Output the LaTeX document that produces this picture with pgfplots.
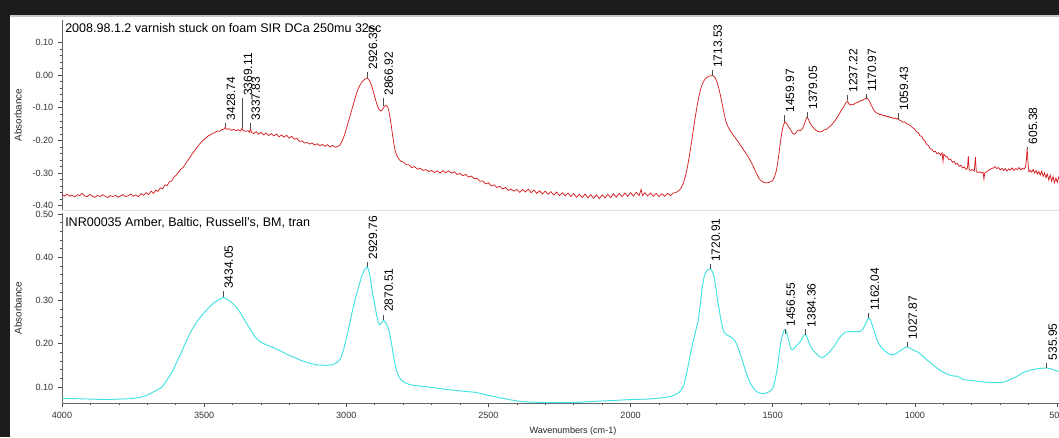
\documentclass[border=0pt]{standalone}
\usepackage{fontspec}
\setmainfont{Liberation Sans}
\usepackage{pgfplots}
\pgfplotsset{compat=1.18}
\usepackage{pgfplotstable}
\definecolor{redline}{RGB}{214,30,34}
\definecolor{cyanline}{RGB}{64,226,226}
\definecolor{darkframe}{RGB}{28,28,28}

\pgfplotstableread{
w v lab
3426 -0.143 3428.74
3366 -0.068 3369.11
3339 -0.143 3337.83
2927 0.012 2926.37
2871 -0.067 2866.92
1714 0.018 1713.53
1460 -0.119 1459.97
1379 -0.110 1379.05
1237 -0.058 1237.22
1171 -0.055 1170.97
1059 -0.113 1059.43
605 -0.216 605.38
}\toplabels

\pgfplotstableread{
w v lab
3434 0.323 3434.05
2927 0.391 2929.76
2871 0.270 2870.51
1721 0.386 1720.91
1457 0.236 1456.55
1384 0.235 1384.36
1162 0.274 1162.04
1028 0.207 1027.87
536 0.158 535.95
}\botlabels

\pgfplotsset{
  commonax/.style={
    scale only axis, width=747.75pt, height=142.5pt,
    x dir=reverse, xmin=493, xmax=4000,
    axis line style={-, black!60, line width=0.6pt},
    tick align=outside, major tick length=3pt, minor tick length=1.8pt,
    every tick/.style={black!70, line width=0.5pt},
    /pgf/number format/assume math mode=true,
    yticklabel style={font=\fontsize{6.8}{8}\selectfont, text=black!80,
      /pgf/number format/fixed, /pgf/number format/fixed zerofill,
      /pgf/number format/precision=2},
    xticklabel style={font=\fontsize{6.8}{8}\selectfont, text=black!80,
      /pgf/number format/1000 sep={}},
    minor y tick num=4,
    ylabel={Absorbance},
    ylabel style={font=\fontsize{7.4}{9}\selectfont, text=black!85,
      at={(axis description cs:-0.0441,0.5)}, anchor=center},
  },
  peaklab/.style={only marks, mark=none, nodes near coords,
    point meta=explicit symbolic,
    every node near coord/.append style={rotate=90, anchor=north west,
      inner sep=1pt, font=\fontsize{9}{10}\selectfont, text=black}},
}

\begin{document}
\begin{tikzpicture}
\fill[darkframe] (0pt,0pt) rectangle (794.25pt,327.75pt);
\fill[white] (7.5pt,0pt) rectangle (794.25pt,315pt);
\fill[black!22] (7.5pt,315pt) rectangle (794.25pt,316.5pt);
\draw[black!12, line width=1.2pt] (46.5pt,169.9pt) -- (794.25pt,169.9pt);

% ---------------- top panel ----------------
\begin{axis}[commonax, at={(46.5pt,170.25pt)}, anchor=south west,
  ymin=-0.413, ymax=0.169,
  axis x line=none, axis y line*=left,
  ytick={-0.4,-0.3,-0.2,-0.1,0,0.1}]
\addplot[redline, line width=0.55pt] coordinates {
(4000,-0.366)(3990,-0.370)(3982,-0.364)(3973,-0.371)(3965,-0.367)(3955,-0.373)(3946,-0.366)(3938,-0.369)(3929,-0.362)(3920,-0.370)
(3911,-0.372)(3902,-0.365)(3893,-0.371)(3884,-0.374)(3875,-0.368)(3866,-0.372)(3857,-0.366)(3848,-0.371)(3839,-0.375)(3830,-0.369)
(3821,-0.372)(3812,-0.368)(3803,-0.374)(3794,-0.370)(3785,-0.366)(3776,-0.372)(3767,-0.369)(3758,-0.364)(3749,-0.371)(3740,-0.367)
(3731,-0.372)(3722,-0.363)(3713,-0.368)(3704,-0.360)(3695,-0.366)(3686,-0.355)(3678,-0.362)(3670,-0.352)(3662,-0.356)(3654,-0.345)
(3646,-0.348)(3638,-0.336)(3630,-0.338)(3622,-0.326)(3614,-0.324)(3606,-0.312)(3598,-0.306)(3590,-0.297)(3582,-0.288)(3574,-0.283)
(3566,-0.272)(3558,-0.262)(3550,-0.252)(3542,-0.241)(3534,-0.232)(3526,-0.222)(3518,-0.213)(3510,-0.205)(3502,-0.198)(3494,-0.193)
(3486,-0.186)(3478,-0.183)(3470,-0.178)(3462,-0.176)(3454,-0.171)(3446,-0.172)(3438,-0.167)(3430,-0.165)(3426,-0.160)(3420,-0.166)
(3412,-0.164)(3404,-0.169)(3396,-0.166)(3388,-0.170)(3380,-0.167)(3372,-0.171)(3367,-0.163)(3362,-0.170)(3354,-0.172)(3346,-0.170)
(3340,-0.175)(3337,-0.164)(3333,-0.175)(3325,-0.179)(3317,-0.173)(3309,-0.181)(3300,-0.175)(3291,-0.183)(3282,-0.177)(3273,-0.185)
(3264,-0.179)(3255,-0.186)(3246,-0.180)(3237,-0.189)(3228,-0.183)(3219,-0.190)(3210,-0.184)(3201,-0.193)(3192,-0.187)(3183,-0.196)
(3174,-0.193)(3165,-0.203)(3156,-0.201)(3147,-0.208)(3138,-0.206)(3129,-0.211)(3120,-0.208)(3111,-0.214)(3102,-0.210)(3093,-0.216)
(3084,-0.212)(3075,-0.218)(3066,-0.213)(3057,-0.220)(3048,-0.215)(3039,-0.221)(3031,-0.218)(3024,-0.216)(3018,-0.208)(3012,-0.196)
(3006,-0.182)(3000,-0.165)(2994,-0.146)(2988,-0.128)(2982,-0.110)(2976,-0.092)(2970,-0.074)(2964,-0.056)(2958,-0.042)(2952,-0.031)
(2946,-0.022)(2940,-0.016)(2934,-0.012)(2928,-0.009)(2924,-0.010)(2919,-0.016)(2914,-0.025)(2909,-0.038)(2904,-0.053)(2899,-0.069)
(2894,-0.084)(2889,-0.097)(2884,-0.106)(2879,-0.110)(2874,-0.106)(2869,-0.099)(2864,-0.094)(2859,-0.093)(2854,-0.098)(2849,-0.115)
(2844,-0.140)(2839,-0.172)(2834,-0.203)(2829,-0.228)(2823,-0.245)(2816,-0.256)(2808,-0.264)
(2799,-0.266)(2790,-0.274)(2780,-0.274)(2770,-0.283)(2760,-0.280)(2750,-0.288)(2740,-0.285)(2730,-0.292)(2720,-0.289)(2710,-0.295)
(2700,-0.292)(2690,-0.298)(2680,-0.293)(2670,-0.300)(2660,-0.292)(2650,-0.299)(2640,-0.293)(2630,-0.300)(2620,-0.296)(2610,-0.304)
(2600,-0.301)(2590,-0.308)(2580,-0.304)(2570,-0.312)(2560,-0.309)(2550,-0.317)(2540,-0.316)(2530,-0.325)(2520,-0.324)(2510,-0.333)
(2500,-0.330)(2490,-0.339)(2480,-0.336)(2470,-0.344)(2460,-0.340)(2450,-0.349)(2440,-0.344)(2430,-0.353)(2420,-0.349)(2410,-0.355)
(2400,-0.350)(2390,-0.359)(2380,-0.350)(2370,-0.358)(2360,-0.349)(2350,-0.360)(2340,-0.352)(2330,-0.362)(2320,-0.354)(2310,-0.364)
(2300,-0.355)(2290,-0.365)(2280,-0.357)(2270,-0.367)(2260,-0.358)(2250,-0.369)(2240,-0.360)(2230,-0.370)(2220,-0.361)(2210,-0.372)
(2200,-0.363)(2190,-0.374)(2180,-0.365)(2170,-0.375)(2160,-0.364)(2150,-0.376)(2140,-0.366)(2130,-0.377)(2120,-0.367)(2110,-0.378)
(2100,-0.367)(2090,-0.376)(2080,-0.365)(2070,-0.375)(2060,-0.363)(2050,-0.374)(2040,-0.362)(2030,-0.372)(2020,-0.361)(2010,-0.371)
(2000,-0.360)(1990,-0.370)(1980,-0.359)(1970,-0.369)(1963,-0.350)(1958,-0.369)(1950,-0.360)(1940,-0.370)(1930,-0.361)(1920,-0.371)
(1910,-0.362)(1900,-0.372)(1890,-0.363)(1880,-0.371)(1870,-0.362)(1860,-0.369)(1850,-0.361)
(1842,-0.360)(1834,-0.356)(1826,-0.350)(1820,-0.342)(1814,-0.330)(1808,-0.312)
(1802,-0.290)(1796,-0.262)(1790,-0.230)(1784,-0.196)(1778,-0.160)(1772,-0.126)(1766,-0.094)(1760,-0.066)(1754,-0.044)(1748,-0.028)
(1742,-0.017)(1736,-0.010)(1730,-0.006)(1724,-0.003)(1718,-0.002)(1712,-0.001)(1706,-0.004)(1700,-0.012)(1694,-0.026)(1688,-0.046)
(1682,-0.070)(1676,-0.096)(1670,-0.122)(1664,-0.144)(1656,-0.160)(1648,-0.172)(1640,-0.182)(1630,-0.194)(1620,-0.206)(1610,-0.219)
(1600,-0.232)(1590,-0.245)(1580,-0.260)(1570,-0.276)(1562,-0.292)(1555,-0.305)(1548,-0.317)(1540,-0.324)(1532,-0.328)(1524,-0.330)
(1516,-0.329)(1508,-0.327)(1500,-0.322)(1494,-0.312)(1488,-0.295)(1483,-0.272)(1478,-0.240)(1473,-0.205)(1468,-0.175)(1463,-0.155)
(1458,-0.144)(1453,-0.146)(1448,-0.152)(1443,-0.160)(1438,-0.166)(1433,-0.174)(1428,-0.180)(1423,-0.181)(1418,-0.176)(1413,-0.170)
(1408,-0.168)(1403,-0.170)(1398,-0.167)(1393,-0.160)(1388,-0.148)(1383,-0.135)(1379,-0.128)(1375,-0.134)(1370,-0.144)(1365,-0.152)
(1360,-0.158)(1354,-0.164)(1348,-0.169)(1342,-0.172)(1335,-0.174)(1327,-0.172)(1319,-0.168)(1311,-0.166)(1303,-0.160)(1295,-0.154)
(1287,-0.146)(1279,-0.137)(1271,-0.126)(1263,-0.114)(1255,-0.103)(1248,-0.093)(1242,-0.084)(1237,-0.079)(1233,-0.086)(1228,-0.092)
(1222,-0.089)(1216,-0.090)(1210,-0.086)(1204,-0.084)(1198,-0.082)(1192,-0.078)(1186,-0.079)(1180,-0.074)(1174,-0.072)(1169,-0.069)
(1164,-0.074)(1159,-0.081)(1154,-0.091)(1148,-0.101)(1142,-0.110)(1136,-0.115)(1130,-0.117)(1124,-0.121)(1118,-0.120)(1112,-0.125)
(1106,-0.123)(1100,-0.127)(1094,-0.126)(1088,-0.130)(1082,-0.129)(1076,-0.133)(1070,-0.131)(1064,-0.135)(1059,-0.131)(1054,-0.138)
(1048,-0.140)(1042,-0.144)(1036,-0.143)(1030,-0.148)(1024,-0.151)(1018,-0.153)(1012,-0.158)(1006,-0.162)
(1000,-0.166)(994,-0.174)(988,-0.176)(982,-0.186)(976,-0.187)(970,-0.198)(964,-0.202)(958,-0.213)(952,-0.215)(946,-0.226)
(940,-0.227)(934,-0.235)(928,-0.233)(922,-0.241)(916,-0.237)(910,-0.245)(904,-0.238)(901,-0.264)(898,-0.242)(892,-0.249)
(886,-0.250)(880,-0.259)(874,-0.257)(868,-0.267)(862,-0.264)(856,-0.273)(850,-0.270)(844,-0.279)(838,-0.276)(832,-0.284)
(826,-0.281)(820,-0.289)(815,-0.285)(812,-0.248)(809,-0.290)(803,-0.292)(797,-0.289)(791,-0.294)(787,-0.250)(784,-0.295)
(778,-0.298)(772,-0.296)(766,-0.300)(760,-0.297)(757,-0.318)(754,-0.299)(748,-0.296)(742,-0.292)(736,-0.289)(730,-0.286)
(724,-0.284)(718,-0.280)(712,-0.286)(706,-0.283)(700,-0.290)(694,-0.285)(688,-0.292)(682,-0.286)(676,-0.294)(670,-0.287)
(664,-0.291)(658,-0.284)(652,-0.292)(646,-0.286)(640,-0.289)(634,-0.283)(628,-0.290)(622,-0.285)(616,-0.288)(611,-0.282)
(608,-0.262)(605,-0.224)(602,-0.270)(599,-0.296)(594,-0.291)(589,-0.297)(584,-0.289)(579,-0.300)(574,-0.292)(569,-0.303)
(564,-0.295)(559,-0.306)(554,-0.294)(549,-0.310)(544,-0.299)(539,-0.314)(534,-0.303)(529,-0.321)(524,-0.306)(519,-0.325)
(514,-0.310)(509,-0.330)(504,-0.315)(499,-0.328)(494,-0.312)(490,-0.322)
};
\addplot[black!70, line width=0.5pt, unbounded coords=jump] coordinates {
(3426,-0.160)(3426,-0.146)(3426,nan)
(3366,-0.163)(3366,-0.071)(3366,nan)
(3339,-0.164)(3339,-0.146)(3339,nan)
(2927,-0.008)(2927,0.009)(2927,nan)
(2871,-0.094)(2871,-0.070)(2871,nan)
(1714,-0.001)(1714,0.015)(1714,nan)
(1460,-0.143)(1460,-0.122)(1460,nan)
(1379,-0.131)(1379,-0.113)(1379,nan)
(1237,-0.076)(1237,-0.061)(1237,nan)
(1171,-0.073)(1171,-0.058)(1171,nan)
(1059,-0.137)(1059,-0.116)(1059,nan)
(605,-0.226)(605,-0.219)
};
\addplot[peaklab] table[x=w, y=v, meta=lab] {\toplabels};
\node[anchor=base west, inner sep=0pt, font=\fontsize{9.4}{11}\selectfont]
  at (axis description cs:0.003,0.934) {2008.98.1.2 varnish stuck on foam SIR DCa 250mu 32sc};
\end{axis}

% ---------------- bottom panel ----------------
\begin{axis}[commonax, at={(46.5pt,25.5pt)}, anchor=south west,
  ymin=0.063, ymax=0.5023,
  axis x line*=bottom, axis y line*=left,
  ytick={0.1,0.2,0.3,0.4,0.5},
  xtick={500,1000,1500,2000,2500,3000,3500,4000}, minor x tick num=4,
  xlabel={Wavenumbers (cm-1)},
  xlabel style={font=\fontsize{6.8}{8}\selectfont, text=black!85,
    at={(axis description cs:0.5125,-0.147)}, anchor=center}]
\addplot[cyanline, line width=0.7pt] coordinates {
(4000,0.074)(3950,0.073)(3900,0.072)(3850,0.071)(3800,0.072)(3760,0.073)(3725,0.076)(3700,0.081)(3680,0.088)(3660,0.095)
(3648,0.100)(3635,0.112)(3620,0.127)(3609,0.140)(3595,0.160)(3580,0.180)(3565,0.203)(3550,0.224)(3538,0.238)(3520,0.256)
(3505,0.268)(3489,0.280)(3470,0.292)(3454,0.300)(3440,0.305)(3433,0.307)(3425,0.305)(3408,0.298)(3390,0.287)(3373,0.272)
(3355,0.252)(3338,0.233)(3320,0.215)(3302,0.204)(3280,0.197)(3256,0.191)(3230,0.183)(3207,0.175)(3185,0.169)(3161,0.162)
(3130,0.155)(3101,0.151)(3070,0.150)(3045,0.152)(3030,0.158)(3020,0.166)(3010,0.185)(3000,0.212)(2990,0.240)(2980,0.272)
(2968,0.305)(2955,0.335)(2945,0.358)(2935,0.372)(2928,0.377)(2922,0.372)(2915,0.350)(2908,0.318)(2900,0.290)(2893,0.265)
(2887,0.247)(2881,0.244)(2875,0.250)(2869,0.254)(2863,0.250)(2857,0.243)(2851,0.234)(2845,0.215)(2839,0.193)(2833,0.168)
(2826,0.145)(2818,0.128)(2808,0.117)(2795,0.110)(2774,0.105)(2740,0.102)(2700,0.099)(2643,0.094)(2600,0.091)(2550,0.088)
(2527,0.085)(2490,0.079)(2450,0.074)(2411,0.069)(2380,0.066)(2351,0.065)(2300,0.064)(2250,0.064)(2200,0.064)(2175,0.065)
(2120,0.067)(2058,0.069)(2000,0.071)(1939,0.072)(1890,0.075)(1860,0.078)(1847,0.081)(1830,0.087)(1822,0.093)(1812,0.105)
(1805,0.125)(1798,0.147)(1790,0.175)(1780,0.205)(1770,0.232)(1763,0.250)(1755,0.290)(1748,0.330)(1741,0.356)(1734,0.367)
(1726,0.372)(1720,0.373)(1713,0.368)(1706,0.355)(1700,0.330)(1694,0.300)(1689,0.282)(1683,0.258)(1677,0.238)(1671,0.226)
(1660,0.220)(1646,0.215)(1637,0.210)(1629,0.202)(1620,0.188)(1610,0.168)(1600,0.147)(1590,0.126)(1580,0.110)(1570,0.099)
(1560,0.091)(1550,0.087)(1540,0.085)(1530,0.085)(1520,0.087)(1510,0.090)(1500,0.097)(1493,0.112)(1486,0.135)(1481,0.158)
(1475,0.190)(1468,0.215)(1461,0.230)(1456,0.233)(1450,0.225)(1443,0.205)(1436,0.188)(1430,0.186)(1424,0.190)(1416,0.196)
(1407,0.202)(1398,0.210)(1390,0.220)(1384,0.222)(1378,0.213)(1370,0.198)(1362,0.188)(1355,0.183)(1345,0.176)(1335,0.170)
(1325,0.168)(1315,0.172)(1304,0.178)(1294,0.186)(1283,0.195)(1272,0.207)(1259,0.219)(1245,0.227)(1230,0.228)(1215,0.228)
(1195,0.228)(1185,0.232)(1176,0.242)(1168,0.254)(1162,0.260)(1156,0.255)(1150,0.243)(1142,0.228)(1135,0.212)(1125,0.198)
(1118,0.192)(1105,0.183)(1090,0.176)(1075,0.174)(1060,0.180)(1047,0.186)(1035,0.191)(1027,0.193)(1018,0.190)(1005,0.185)
(987,0.180)(970,0.170)(955,0.161)(941,0.154)(925,0.145)(910,0.138)(896,0.133)(880,0.128)(860,0.125)(850,0.125)
(840,0.121)(830,0.117)(800,0.115)(765,0.112)(730,0.110)(700,0.110)(684,0.112)(665,0.117)(640,0.125)(620,0.133)
(600,0.138)(580,0.141)(560,0.143)(536,0.144)(520,0.142)(505,0.138)(490,0.135)
};
\addplot[black!70, line width=0.5pt, unbounded coords=jump] coordinates {
(3434,0.307)(3434,0.321)(3434,nan)
(2927,0.377)(2927,0.388)(2927,nan)
(2871,0.254)(2871,0.267)(2871,nan)
(1721,0.373)(1721,0.384)(1721,nan)
(1457,0.222)(1457,0.234)(1457,nan)
(1384,0.221)(1384,0.233)(1384,nan)
(1162,0.260)(1162,0.272)(1162,nan)
(1028,0.193)(1028,0.205)(1028,nan)
(536,0.144)(536,0.156)
};
\addplot[peaklab] table[x=w, y=v, meta=lab] {\botlabels};
\node[anchor=base west, inner sep=0pt, font=\fontsize{9.4}{11}\selectfont]
  at (axis description cs:0.003,0.928) {INR00035 Amber, Baltic, Russell's, BM, tran};
\end{axis}
\pgfresetboundingbox
\useasboundingbox (0pt,0pt) rectangle (794.25pt,327.75pt);
\end{tikzpicture}
\end{document}
